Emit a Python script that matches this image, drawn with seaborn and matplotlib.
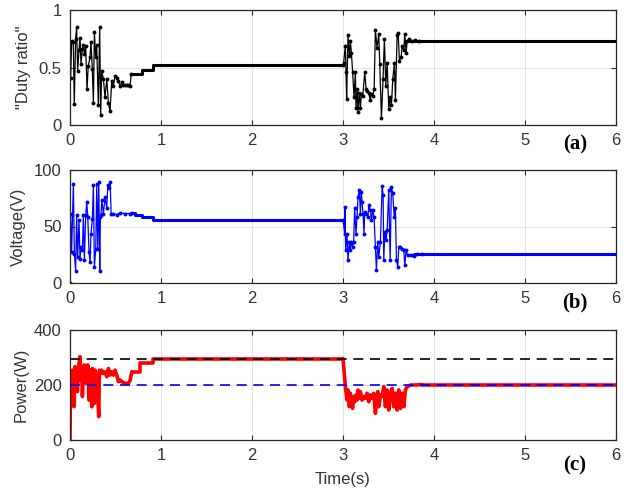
import numpy as np
import pandas as pd
import matplotlib
matplotlib.use("Agg")
import matplotlib.pyplot as plt
import seaborn as sns

# ---------------- data ----------------
time_ticks = [0, 1, 2, 3, 4, 5, 6]

# (a) duty ratio
duty_t1 = [0.007, 0.018, 0.036, 0.047, 0.062, 0.073, 0.084, 0.099, 0.110, 0.121, 0.135, 0.147, 0.158, 0.172, 0.187,
           0.200, 0.220, 0.230, 0.245, 0.257, 0.268, 0.282, 0.293, 0.312, 0.326, 0.337, 0.348, 0.367, 0.385, 0.404,
           0.422, 0.440, 0.458, 0.477, 0.495, 0.514, 0.532, 0.550, 0.569, 0.587, 0.606, 0.624, 0.642, 0.660, 0.672]
duty_v1 = [0.41, 0.73, 0.72, 0.18, 0.75, 0.85, 0.47, 0.65, 0.76, 0.53, 0.66, 0.70, 0.62, 0.69, 0.31,
           0.51, 0.59, 0.72, 0.49, 0.19, 0.81, 0.59, 0.70, 0.17, 0.85, 0.09, 0.47, 0.40, 0.24, 0.40,
           0.19, 0.12, 0.38, 0.34, 0.43, 0.41, 0.38, 0.34, 0.37, 0.35, 0.35, 0.35, 0.35, 0.34, 0.44]
duty_step_t = [0.672, 0.79, 0.91, 3.0]
duty_step_v = [0.44, 0.48, 0.52, 0.52]
duty_t2 = [3.000, 3.007, 3.026, 3.033, 3.040, 3.055, 3.070, 3.081, 3.092, 3.106, 3.121, 3.136, 3.143, 3.158, 3.165,
           3.180, 3.191, 3.202, 3.217, 3.239, 3.254, 3.268, 3.283, 3.298, 3.312, 3.327, 3.342, 3.356, 3.374, 3.393,
           3.404, 3.422, 3.440, 3.455, 3.470, 3.485, 3.503, 3.518, 3.532, 3.547, 3.565, 3.576, 3.595, 3.606, 3.620,
           3.639, 3.650, 3.668, 3.679, 3.694, 3.705, 3.723, 3.760, 3.796, 3.833]
duty_v2 = [0.52, 0.54, 0.69, 0.46, 0.23, 0.78, 0.60, 0.73, 0.63, 0.46, 0.24, 0.46, 0.15, 0.31, 0.11,
           0.28, 0.15, 0.27, 0.25, 0.46, 0.31, 0.30, 0.28, 0.22, 0.27, 0.25, 0.31, 0.83, 0.67, 0.79,
           0.53, 0.06, 0.40, 0.75, 0.34, 0.54, 0.14, 0.24, 0.17, 0.40, 0.54, 0.22, 0.78, 0.80, 0.56,
           0.59, 0.69, 0.65, 0.79, 0.63, 0.73, 0.75, 0.73, 0.74, 0.73]
duty_hold_t = [3.72, 6.0]
duty_hold_v = [0.73, 0.73]
duty_yticks = [0, 0.5, 1]
duty_ylabels = ["0", "0.5", "1"]

# (b) voltage
volt_t1 = [0.000, 0.007, 0.018, 0.037, 0.048, 0.062, 0.073, 0.084, 0.099, 0.110, 0.121, 0.136, 0.147, 0.158, 0.173,
           0.184, 0.195, 0.209, 0.220, 0.231, 0.246, 0.257, 0.268, 0.283, 0.294, 0.305, 0.316, 0.327, 0.334, 0.341,
           0.349, 0.367, 0.385, 0.404, 0.415, 0.430, 0.441, 0.452, 0.477, 0.514, 0.551, 0.606, 0.661, 0.679]
volt_v1 = [0, 61.5, 27.5, 87.6, 26, 11, 60, 23, 55.6, 21.6, 32, 29, 60, 20, 60,
           72, 58.6, 27.5, 18.6, 43.8, 57, 86.7, 14.2, 30.5, 88, 30.5, 89.6, 11, 58.6, 60,
           73.4, 61.5, 76, 66, 86.7, 83.7, 89.6, 61.5, 61.5, 60.6, 62, 61.5, 61.5, 62]
volt_step_t = [0.679, 0.716, 0.789, 0.91, 3.0]
volt_step_v = [62, 60, 58.6, 55.8, 55.8]
volt_t2 = [3.000, 3.018, 3.022, 3.029, 3.044, 3.055, 3.070, 3.081, 3.092, 3.106, 3.117, 3.128, 3.143, 3.154, 3.165,
           3.180, 3.191, 3.202, 3.209, 3.220, 3.231, 3.239, 3.253, 3.275, 3.283, 3.301, 3.312, 3.327, 3.341, 3.356,
           3.367, 3.382, 3.393, 3.411, 3.430, 3.441, 3.448, 3.459, 3.474, 3.485, 3.503, 3.518, 3.532, 3.547, 3.562,
           3.576, 3.587, 3.602, 3.613, 3.631, 3.650, 3.668, 3.679, 3.694, 3.709, 3.742, 3.778, 3.815, 3.870]
volt_v2 = [55.8, 43.8, 66.9, 29, 43.8, 20, 36.4, 29, 36.4, 32, 36.4, 66, 43.8, 58.6, 76.3,
           82.3, 61.5, 80.8, 72, 61.5, 43.8, 63, 61.5, 58.6, 69, 64.5, 55.6, 64.5, 58.6, 32,
           11.3, 36.4, 23, 36.4, 85.8, 77.8, 20, 45.3, 37.9, 46.7, 82.3, 20, 85.2, 79.3, 58.6,
           66, 20, 14.2, 32, 32, 30.5, 29, 15.7, 29, 24.5, 24.5, 23.7, 25.4, 25.8]
volt_hold_t = [3.78, 6.0]
volt_hold_v = [25.8, 25.8]
volt_yticks = [0, 50, 100]

# (c) power
pow_t1 = [0.000, 0.007, 0.018, 0.026, 0.037, 0.044, 0.055, 0.062, 0.073, 0.081, 0.092, 0.099, 0.110, 0.117, 0.128,
          0.136, 0.147, 0.158, 0.165, 0.176, 0.187, 0.195, 0.209, 0.220, 0.231, 0.239, 0.246, 0.257, 0.268, 0.275,
          0.286, 0.297, 0.305, 0.316, 0.323, 0.338, 0.349, 0.367, 0.385, 0.404, 0.422, 0.441, 0.459, 0.477, 0.496,
          0.514, 0.532, 0.551, 0.569, 0.606, 0.642, 0.661, 0.679]
pow_v1 = [0, 230, 200, 254, 236, 121, 267, 218, 254, 176, 242, 279, 303, 218, 254,
          158, 242, 273, 206, 254, 236, 273, 145, 254, 230, 121, 260, 224, 133, 254,
          236, 194, 158, 85, 254, 242, 254, 242, 248, 230, 260, 236, 248, 236, 254,
          236, 212, 218, 212, 206, 206, 218, 248]
pow_step_t = [0.679, 0.771, 0.91, 3.0]
pow_step_v = [248, 279, 296, 296]
pow_t2 = [3.000, 3.026, 3.044, 3.055, 3.070, 3.081, 3.092, 3.106, 3.117, 3.128, 3.143, 3.154, 3.165, 3.180, 3.191,
          3.209, 3.228, 3.246, 3.264, 3.283, 3.301, 3.319, 3.338, 3.356, 3.367, 3.382, 3.393, 3.411, 3.430, 3.448,
          3.466, 3.485, 3.503, 3.521, 3.540, 3.558, 3.576, 3.595, 3.613, 3.631, 3.650, 3.668, 3.686, 3.705, 3.742,
          3.797, 3.870]
pow_v2 = [296, 194, 145, 182, 121, 170, 133, 115, 158, 139, 164, 145, 182, 152, 176,
          145, 158, 152, 170, 139, 164, 152, 170, 97, 133, 176, 121, 164, 158, 194,
          121, 182, 109, 170, 188, 121, 170, 109, 182, 115, 170, 121, 182, 194, 200,
          200, 202]
pow_hold_t = [3.87, 6.0]
pow_hold_v = [200, 200]
pow_ref_t = [0, 6]
pow_ref_high = [296, 296]
pow_ref_low = [200, 200]
pow_yticks = [0, 200, 400]

# ---------------- figure ----------------
sns.set_style("ticks")
plt.rcParams["font.family"] = ["Liberation Sans", "DejaVu Sans"]

W, H = 635, 497
fig = plt.figure(figsize=(W / 100, H / 100), dpi=100)
axA = fig.add_axes([70 / W, 1 - 125 / H, 546 / W, 115 / H])
axB = fig.add_axes([70 / W, 1 - 283 / H, 546 / W, 113 / H])
axC = fig.add_axes([70 / W, 1 - 440 / H, 546 / W, 110 / H])

tick_col = "#262626"
lab_col = "#333333"


def style(ax, yticks, ylim, ylabels=None):
    ax.set_xlim(0, 6)
    ax.set_ylim(*ylim)
    ax.set_xticks(time_ticks)
    ax.set_xticklabels([str(t) for t in time_ticks])
    ax.set_yticks(yticks)
    if ylabels is not None:
        ax.set_yticklabels(ylabels)
    ax.grid(True, color="#e3e3e3", lw=0.7)
    ax.set_axisbelow(True)
    ax.tick_params(direction="in", top=True, right=True, length=3.5, width=0.8,
                   color=tick_col, labelcolor=lab_col, labelsize=12, pad=6)
    for sp in ax.spines.values():
        sp.set_visible(True)
        sp.set_color(tick_col)
        sp.set_linewidth(0.9)
    ax.set_xlabel("")


common = dict(sort=False, estimator=None, legend=False)

# (a)
sns.lineplot(x=duty_t1, y=duty_v1, ax=axA, color="black", lw=0.9, marker="o", markersize=2.8,
             markeredgewidth=0, **common)
sns.lineplot(x=duty_step_t, y=duty_step_v, ax=axA, color="black", lw=2.2, drawstyle="steps-post", **common)
sns.lineplot(x=duty_t2, y=duty_v2, ax=axA, color="black", lw=0.9, marker="o", markersize=2.8,
             markeredgewidth=0, **common)
sns.lineplot(x=duty_hold_t, y=duty_hold_v, ax=axA, color="black", lw=2.2, **common)
style(axA, duty_yticks, (0, 1), duty_ylabels)
axA.set_ylabel('"Duty ratio"', fontsize=12, color=lab_col)
axA.yaxis.set_label_coords(-0.072, 0.5)
axA.text(0.925, -0.17, "(a)", transform=axA.transAxes, family="Liberation Serif", fontweight="bold",
         fontsize=15, ha="center", va="center", color="black")

# (b)
sns.lineplot(x=volt_t1, y=volt_v1, ax=axB, color="blue", lw=0.9, marker="o", markersize=2.8,
             markeredgewidth=0, **common)
sns.lineplot(x=volt_step_t, y=volt_step_v, ax=axB, color="blue", lw=2.2, drawstyle="steps-post", **common)
sns.lineplot(x=volt_t2, y=volt_v2, ax=axB, color="blue", lw=0.9, marker="o", markersize=2.8,
             markeredgewidth=0, **common)
sns.lineplot(x=volt_hold_t, y=volt_hold_v, ax=axB, color="blue", lw=2.2, **common)
style(axB, volt_yticks, (0, 100))
axB.set_ylabel("Voltage(V)", fontsize=12, color=lab_col)
axB.yaxis.set_label_coords(-0.080, 0.5)
axB.text(0.925, -0.17, "(b)", transform=axB.transAxes, family="Liberation Serif", fontweight="bold",
         fontsize=15, ha="center", va="center", color="black")

# (c)
sns.lineplot(x=pow_t1, y=pow_v1, ax=axC, color="red", lw=2.6, **common)
sns.lineplot(x=pow_step_t, y=pow_step_v, ax=axC, color="red", lw=2.6, drawstyle="steps-post", **common)
sns.lineplot(x=pow_t2, y=pow_v2, ax=axC, color="red", lw=2.6, **common)
sns.lineplot(x=pow_hold_t, y=pow_hold_v, ax=axC, color="red", lw=2.6, **common)
sns.lineplot(x=pow_ref_t, y=pow_ref_high, ax=axC, color="black", lw=1.2, dashes=False, **common)
sns.lineplot(x=pow_ref_t, y=pow_ref_low, ax=axC, color="blue", lw=1.2, dashes=False, **common)
for ln in axC.get_lines()[-2:]:
    ln.set_dashes((6, 4))
    ln.set_zorder(3)
style(axC, pow_yticks, (0, 400))
axC.set_ylabel("Power(W)", fontsize=12, color=lab_col)
axC.yaxis.set_label_coords(-0.075, 0.5)
axC.set_xlabel("Time(s)", fontsize=12, color=lab_col)
axC.xaxis.set_label_coords(0.5, -0.29)
axC.text(0.925, -0.23, "(c)", transform=axC.transAxes, family="Liberation Serif", fontweight="bold",
         fontsize=15, ha="center", va="center", color="black")

fig.savefig("out.png", dpi=100)
